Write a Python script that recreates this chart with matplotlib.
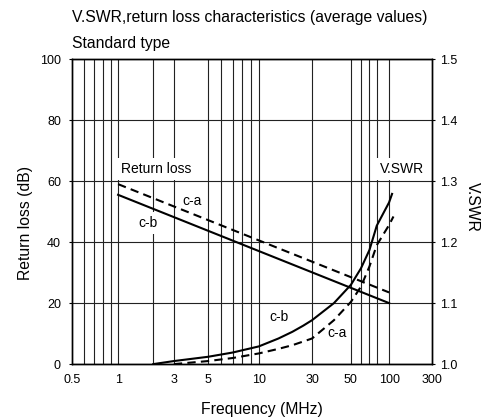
import numpy as np
import matplotlib
matplotlib.use("Agg")
import matplotlib.pyplot as plt
from matplotlib.ticker import FixedLocator, NullFormatter, FixedFormatter

plt.rcParams['font.family'] = ['Liberation Sans', 'DejaVu Sans']

# return loss (dB), straight lines against log frequency
rl_freq = [1, 100]
rl_ca = [59.0, 23.5]
rl_cb = [55.5, 20.0]

# V.SWR curves
vswr_cb_freq = [2, 3, 5, 7, 10, 15, 20, 25, 30, 40, 50, 60, 70, 80, 100, 108]
vswr_cb = [1.000, 1.005, 1.012, 1.019, 1.029, 1.042, 1.053, 1.063, 1.072, 1.100, 1.130,
           1.157, 1.187, 1.227, 1.265, 1.279]
vswr_ca_freq = [3, 5, 7, 10, 15, 20, 30, 40, 50, 60, 70, 80, 100, 112]
vswr_ca = [1.000, 1.005, 1.010, 1.0175, 1.025, 1.031, 1.042, 1.072, 1.102, 1.127, 1.160,
           1.195, 1.228, 1.242]

# axis ticks / grid
freq_ticks = [0.5, 1, 3, 5, 10, 30, 50, 100, 300]
freq_labels = ['0.5', '1', '3', '5', '10', '30', '50', '100', '300']
freq_grid = [0.6, 0.7, 0.8, 0.9, 1, 2, 3, 5, 6, 7, 8, 9, 10, 30, 50, 60, 70, 80, 100]
rl_ticks = [0, 20, 40, 60, 80, 100]
vswr_ticks = [1.0, 1.1, 1.2, 1.3, 1.4, 1.5]

# the printed chart's log axis is not evenly spaced: where each labelled
# frequency sits along the axis (fraction of width), log-interpolated between
tick_frac = [0.0, 0.128, 0.283, 0.378, 0.519, 0.667, 0.775, 0.881, 1.0]
log_ticks = np.log10(freq_ticks)


def fwd(x):
    x = np.clip(np.asarray(x, dtype=float), 1e-6, None)
    return np.interp(np.log10(x), log_ticks, tick_frac)


def inv(y):
    return 10 ** np.interp(np.asarray(y, dtype=float), tick_frac, log_ticks)


fig = plt.figure(figsize=(4.95, 4.19), dpi=100)
ax = fig.add_axes([0.1455, 0.131, 0.727, 0.728])
ax2 = ax.twinx()

ax.set_xscale('function', functions=(fwd, inv))
ax.set_xlim(0.5, 300)
ax.set_ylim(0, 100)
ax2.set_ylim(1.0, 1.5)

ax.xaxis.set_major_locator(FixedLocator(freq_ticks))
ax.xaxis.set_major_formatter(FixedFormatter(freq_labels))
ax.xaxis.set_minor_locator(FixedLocator(freq_grid))
ax.xaxis.set_minor_formatter(NullFormatter())
ax.xaxis.remove_overlapping_locs = False
ax.set_yticks(rl_ticks)
ax2.set_yticks(vswr_ticks)
ax2.set_yticklabels(['%.1f' % v for v in vswr_ticks])

ax.tick_params(axis='x', which='both', length=0, pad=7, labelsize=9)
ax.tick_params(axis='y', length=2, pad=6, labelsize=9)
ax2.tick_params(axis='y', length=2, pad=4, labelsize=9)

ax.grid(True, which='minor', axis='x', color='#222222', lw=0.8)
ax.grid(True, which='major', axis='y', color='#222222', lw=0.8)
for a in (ax, ax2):
    for s in a.spines.values():
        s.set_linewidth(1.0)

# curves
ax.plot(rl_freq, rl_cb, color='black', lw=1.5, zorder=5)
ax.plot(rl_freq, rl_ca, color='black', lw=1.5, ls=(0, (4, 2.5)), zorder=5)
ax2.plot(vswr_cb_freq, vswr_cb, color='black', lw=1.5, zorder=5)
ax2.plot(vswr_ca_freq, vswr_ca, color='black', lw=1.5, ls=(0, (4, 2.5)), zorder=5)

box = dict(facecolor='white', edgecolor='none', pad=3)
ax.text(1.06, 64, 'Return loss', fontsize=10, ha='left', va='center', bbox=box, zorder=3)
ax.text(245, 64, 'V.SWR', fontsize=10, ha='right', va='center', bbox=box, zorder=3)
ax.text(3.94, 53.4, 'c-a', fontsize=10, ha='center', va='center', bbox=box, zorder=3)
ax.text(1.8, 46.2, 'c-b', fontsize=10, ha='center', va='center', bbox=box, zorder=3)
ax.text(15.1, 15.4, 'c-b', fontsize=10, ha='center', va='center', bbox=box, zorder=3)
ax.text(41.6, 10.2, 'c-a', fontsize=10, ha='center', va='center', bbox=box, zorder=3)

ax.set_xlabel('Frequency (MHz)', fontsize=11.3, labelpad=12)
ax.xaxis.label.set_x(0.527)
ax.set_ylabel('Return loss (dB)', fontsize=11.3, labelpad=5)
ax.yaxis.label.set_y(0.462)
ax2.set_ylabel('V.SWR', fontsize=11.3, rotation=270, labelpad=16)
ax2.yaxis.label.set_y(0.515)

fig.text(0.1455, 0.959, 'V.SWR,return loss characteristics (average values)', fontsize=11.3, va='center')
fig.text(0.1455, 0.895, 'Standard type', fontsize=11.3, va='center')

fig.savefig('out.png', dpi=100)
